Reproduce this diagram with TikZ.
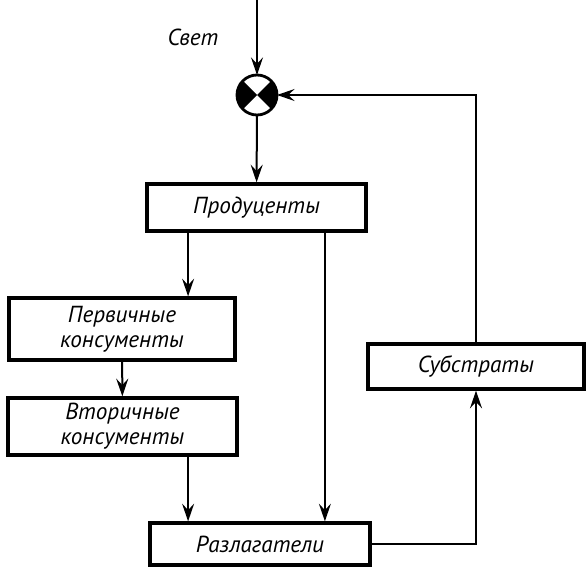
\documentclass[tikz,border=0pt]{standalone}
\usepackage{fontspec}
\setmainfont{PT Sans}
\usepackage{tikz}
\usetikzlibrary{arrows.meta,positioning}

\begin{document}
\begin{tikzpicture}[
  x=0.25mm, y=-0.25mm,
  box/.style={rectangle, draw, line width=0.85mm, align=center, inner sep=0pt,
    font=\fontsize{16.5pt}{18pt}\selectfont\itshape},
  sumnode/.style={circle, draw, line width=0.7mm, minimum size=10mm, inner sep=0pt, outer sep=0pt},
  arr/.style={-{Stealth[length=4.4mm, width=3mm, inset=1.6mm]}, line width=0.5mm}
]
  \useasboundingbox (0,0) rectangle (586,568);

  \node[sumnode] (sum) at (257,95) {};
  \fill (sum.center) -- (sum.135) arc[start angle=135, end angle=225, radius=5mm] -- cycle;
  \fill (sum.center) -- (sum.-45) arc[start angle=-45, end angle=45, radius=5mm] -- cycle;
  \coordinate (light) at (257,0);
  \node[font=\fontsize{16.5pt}{18pt}\selectfont\itshape] (svet) at (193,37) {Свет};

  \node[box, minimum width=54.75mm, minimum height=11.75mm] (prod) at (256.5,207.5) {Продуценты};
  \node[box, minimum width=56.5mm, minimum height=15.5mm] (perv) at (122,329) {Первичные\\консументы};
  \node[box, minimum width=57.25mm, minimum height=14.25mm] (vtor) at (122.5,426.5) {Вторичные\\консументы};
  \node[box, minimum width=55mm, minimum height=10.5mm] (razl) at (260,544) {Разлагатели};
  \node[box, minimum width=54mm, minimum height=11.25mm] (subs) at (476,366.5) {Субстраты};

  \draw[arr] (light) -- (sum);
  \draw[arr] (sum) -- (prod);
  \draw[arr] ([xshift=-17.1mm]prod.south) -- ([xshift=-17.1mm]prod.south |- perv.north);
  \draw[arr] ([xshift=17.1mm]prod.south) -- ([xshift=17.1mm]prod.south |- razl.north);
  \draw[arr] (perv) -- (vtor);
  \draw[arr] ([xshift=16.4mm]vtor.south) -- ([xshift=16.4mm]vtor.south |- razl.north);
  \draw[arr] (razl.east) -| (subs.south);
  \draw[arr] (subs.north) |- (sum.east);
\end{tikzpicture}
\end{document}
